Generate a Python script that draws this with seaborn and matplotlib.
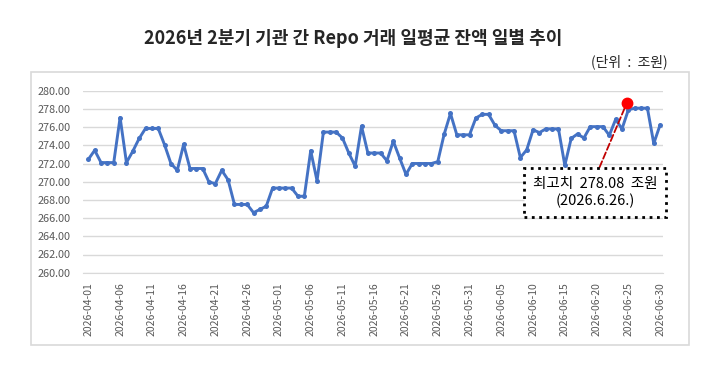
import pandas as pd
import numpy as np
import matplotlib
matplotlib.use('Agg')
import matplotlib.pyplot as plt
import matplotlib.dates as mdates
import matplotlib.transforms as mtransforms
from matplotlib.patches import Rectangle
from matplotlib.ticker import FormatStrFormatter
import seaborn as sns

# ── Data: daily average Repo balance (조원), 2026 Q2 ───────────
START, END = '2026-04-01', '2026-06-30'
apr_values = [272.45, 273.45, 272.10, 272.10, 272.10, 277.05, 272.10, 273.35, 274.75, 275.85,
              275.85, 275.85, 274.05, 272.00, 271.25, 274.10, 271.45, 271.45, 271.45, 269.95,
              269.80, 271.25, 270.20, 267.50, 267.50, 267.50, 266.60, 266.95, 267.30, 269.30]
may_values = [269.30, 269.30, 269.30, 268.40, 268.40, 273.40, 270.10, 275.45, 275.45, 275.45,
              274.80, 273.15, 271.70, 276.10, 273.15, 273.15, 273.15, 272.30, 274.45, 272.60,
              270.80, 272.00, 272.00, 272.00, 272.00, 272.20, 275.20, 277.50, 275.15, 275.15,
              275.15]
jun_values = [277.00, 277.40, 277.40, 276.20, 275.60, 275.60, 275.60, 272.65, 273.50, 275.70,
              275.40, 275.80, 275.80, 275.80, 271.80, 274.75, 275.25, 274.80, 276.05, 276.05,
              276.05, 275.10, 276.85, 275.80, 277.90, 278.08, 278.08, 278.08, 274.20, 276.25]
y_ticks = [260, 262, 264, 266, 268, 270, 272, 274, 276, 278, 280]

TITLE = '2026년 2분기 기관 간 Repo 거래 일평균 잔액 일별 추이'
UNIT  = '(단위  :  조원)'

dates = pd.date_range(START, END, freq='D')
df = pd.DataFrame({'date': dates, 'balance': apr_values + may_values + jun_values})

peak_idx   = df['balance'].idxmax()
peak_date  = df.loc[peak_idx, 'date']
peak_value = df.loc[peak_idx, 'balance']
peak_num   = mdates.date2num(peak_date)

# ── Style ─────────────────────────────────────────────────────
sns.set_style('white')
plt.rcParams['font.family'] = ['Noto Sans CJK KR', 'DejaVu Sans']
BLUE, GRID, TXT = '#4472C4', '#d9d9d9', '#595959'

fig = plt.figure(figsize=(7.2, 3.74), dpi=100)
ax = fig.add_axes([83.3/720, 1 - 272.7/374, (663.3 - 83.3)/720, (272.7 - 90.7)/374])

sns.lineplot(data=df, x='date', y='balance', ax=ax, color=BLUE, linewidth=2.1,
             marker='o', markersize=3.6, markeredgewidth=0, zorder=3)

ax.set_ylim(260, 280)
ax.set_yticks(y_ticks)
ax.yaxis.set_major_formatter(FormatStrFormatter('%.2f'))
ax.set_xlim(dates[0] - pd.Timedelta(hours=19), dates[-1] + pd.Timedelta(hours=12))
ax.set_xticks(dates[::5])
ax.xaxis.set_major_formatter(mdates.DateFormatter('%Y-%m-%d'))
ax.tick_params(axis='x', rotation=90, labelsize=7.5, colors=TXT, length=3, width=0.8,
               color=GRID, pad=4)
ax.tick_params(axis='y', labelsize=7.8, colors=TXT, length=0, pad=9)
ax.grid(axis='y', color=GRID, linewidth=1)
ax.set_xlabel('')
ax.set_ylabel('')
for side in ['top', 'right', 'left']:
    ax.spines[side].set_visible(False)
ax.spines['bottom'].set_color(GRID)

# ── Peak marker + callout ─────────────────────────────────────
dot_tr = mtransforms.offset_copy(ax.transData, fig=fig, x=-7.7, y=5.6, units='dots')
ax.plot([peak_num], [peak_value], 'o', color='#ff0000', markersize=7.5,
        transform=dot_tr, zorder=5, clip_on=False)
label = f"최고치  {peak_value:.2f}  조원\n({peak_date.year}.{peak_date.month}.{peak_date.day}.)"
ax.annotate(label, xy=(peak_num, peak_value), xycoords=dot_tr,
            xytext=(peak_num - 6.2, 268.8), textcoords='data',
            ha='center', va='center', fontsize=10.5, linespacing=1.2, color='black',
            bbox=dict(boxstyle='square,pad=0.6', fc='white', ec='black', ls=':', lw=2),
            arrowprops=dict(arrowstyle='-', color='#c00000', ls='--', lw=1.3,
                            shrinkA=0, shrinkB=4, relpos=(0.5, 1.0)),
            zorder=4)

# ── Titles and outer frame ────────────────────────────────────
fig.text(353/720, 1 - 38/374, TITLE, ha='center', va='center', fontsize=13, fontweight='bold')
fig.text(668/720, 1 - 62/374, UNIT, ha='right', va='center', fontsize=10)
fig.patches.append(Rectangle((31/720, 1 - 345/374), (689 - 31)/720, (345 - 72)/374,
                             transform=fig.transFigure, fill=False, ec=GRID, lw=1.2))

fig.savefig('out.png', dpi=100, facecolor='white')
